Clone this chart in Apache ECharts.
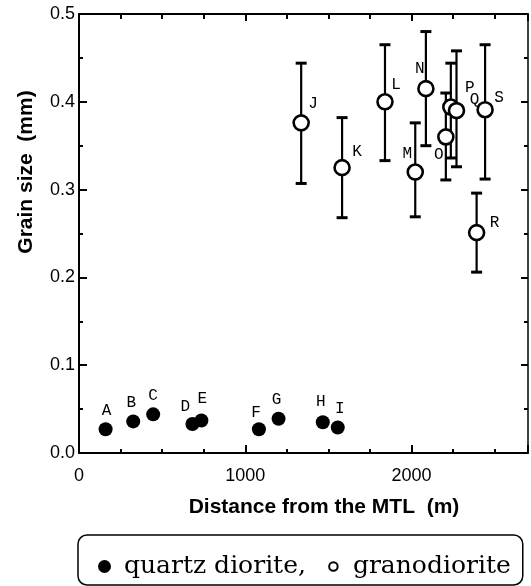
<!DOCTYPE html>
<html><head><meta charset="utf-8">
<script src="https://cdn.jsdelivr.net/npm/echarts@6/dist/echarts.min.js"></script>
<style>html,body{margin:0;padding:0;background:#fff}#c{width:531px;height:586px}</style>
</head><body><div id="c"></div><script>
// ---- data ----
const qdNames = ['A','B','C','D','E','F','G','H','I'];
const qdDistance = [160,326,446,682,736,1082,1200,1466,1556];
const qdGrain = [0.027,0.036,0.044,0.033,0.037,0.027,0.039,0.035,0.029];
const gdNames = ['J','K','L','M','N','O','P','Q','R','S'];
const gdDistance = [1336,1582,1840,2022,2086,2206,2236,2270,2391,2442];
const gdGrain = [0.376,0.325,0.400,0.320,0.415,0.360,0.394,0.390,0.251,0.391];
const gdLow  = [0.307,0.268,0.333,0.269,0.350,0.311,0.336,0.326,0.206,0.312];
const gdHigh = [0.444,0.382,0.465,0.376,0.480,0.410,0.444,0.458,0.296,0.465];
const xTickLabels = ['0','1000','2000'];
const yTickLabels = ['0.0','0.1','0.2','0.3','0.4','0.5'];
const seriesNames = ['quartz diorite,','granodiorite'];

// ---- label placement (style) ----
const labelOffset = {
  A:[1,-19],B:[-2,-19],C:[0,-19],D:[-7,-17],E:[1,-22],F:[-3,-17],G:[-2,-19],H:[-2,-21],I:[2,-19],
  J:[12,-19],K:[15,-16],L:[11,-17],M:[-8,-18],N:[-6,-20],O:[-7,18],P:[19,-19],Q:[18,-11],R:[18,-10],S:[14,-12]
};
const XMIN=0, XMAX=2700, YMIN=0, YMAX=0.5;
const lblStyle = {show:true, position:'inside', fontFamily:'Liberation Mono', fontSize:16, color:'#000'};

const qdData = qdNames.map((n,i)=>({name:n, value:[qdDistance[i], qdGrain[i]], label:Object.assign({}, lblStyle, {offset:labelOffset[n], formatter:n})}));
const gdData = gdNames.map((n,i)=>({name:n, value:[gdDistance[i], gdGrain[i]], label:Object.assign({}, lblStyle, {offset:labelOffset[n], formatter:n})}));
const errData = gdNames.map((n,i)=>[gdDistance[i], gdLow[i], gdHigh[i]]);

const black = '#000';
function xAx(extra){ return Object.assign({type:'value', min:XMIN, max:XMAX, gridIndex:0,
  axisLine:{show:false, onZero:false}, splitLine:{show:false}, axisLabel:{show:false}, axisTick:{show:false}}, extra); }
function yAx(extra){ return Object.assign({type:'value', min:YMIN, max:YMAX, gridIndex:0,
  axisLine:{show:false, onZero:false}, splitLine:{show:false}, axisLabel:{show:false}, axisTick:{show:false}}, extra); }

const chart = echarts.init(document.getElementById('c'), null, {renderer:'canvas'});
chart.setOption({
  backgroundColor:'#fff',
  animation:false,
  grid:{left:79, right:2, top:14, bottom:133},
  xAxis:[
    xAx({position:'bottom', interval:1000,
      axisLine:{show:true, onZero:false, lineStyle:{color:black, width:2}},
      axisTick:{show:true, inside:true, length:8, lineStyle:{color:black, width:2}},
      axisLabel:{show:true, margin:14, fontFamily:'Liberation Sans', fontSize:18, color:black,
        formatter:v=>xTickLabels.includes(String(v))?String(v):''}}),
    xAx({position:'bottom', interval:250,
      axisTick:{show:true, inside:true, length:4, lineStyle:{color:black, width:2}}}),
    xAx({position:'top', interval:250,
      axisLine:{show:true, onZero:false, lineStyle:{color:black, width:2}},
      axisTick:{show:true, inside:true, length:5, lineStyle:{color:black, width:2}}}),
    xAx({position:'top', interval:1000,
      axisTick:{show:true, inside:true, length:7, lineStyle:{color:black, width:2}}})
  ],
  yAxis:[
    yAx({position:'left', interval:0.1,
      axisLine:{show:true, onZero:false, lineStyle:{color:black, width:2}},
      axisTick:{show:true, inside:true, length:8, lineStyle:{color:black, width:2}},
      axisLabel:{show:true, margin:4, fontFamily:'Liberation Sans', fontSize:18, color:black,
        formatter:v=>{const s=(+v).toFixed(1); return yTickLabels.includes(s)?s:'';}}}),
    yAx({position:'left', interval:0.05,
      axisTick:{show:true, inside:true, length:4, lineStyle:{color:black, width:2}}}),
    yAx({position:'right', interval:0.05,
      axisLine:{show:true, onZero:false, lineStyle:{color:black, width:1.5}},
      axisTick:{show:true, inside:true, length:4, lineStyle:{color:black, width:2}}}),
    yAx({position:'right', interval:0.1,
      axisTick:{show:true, inside:true, length:7, lineStyle:{color:black, width:2}}})
  ],
  legend:{
    left:78, top:535, selectedMode:false,
    padding:[19,12,6,20], itemGap:20, itemWidth:13, itemHeight:13,
    borderColor:black, borderWidth:1.5, borderRadius:9,
    textStyle:{fontFamily:'DejaVu Serif', fontSize:25, color:black, padding:[0,0,0,8]},
    data:[
      {name:seriesNames[0], icon:'circle', itemStyle:{color:black, opacity:1}},
      {name:seriesNames[1], icon:'path://M0,0M26,26M4.5,13a8.5,8.5 0 1,0 17,0a8.5,8.5 0 1,0 -17,0Z'}
    ]
  },
  graphic:[
    {type:'text', x:26, y:172, rotation:Math.PI/2, style:{text:'Grain size  (mm)', font:'bold 21px "Liberation Sans"', fill:black, align:'center', verticalAlign:'middle'}},
    {type:'text', x:324, y:507, style:{text:'Distance from the MTL  (m)', font:'bold 21px "Liberation Sans"', fill:black, align:'center', verticalAlign:'middle'}}
  ],
  series:[
    {type:'custom', name:'errbars', xAxisIndex:0, yAxisIndex:0, data:errData, z:1,
      encode:{x:0, y:[1,2]},
      renderItem:(params, api)=>{
        const x=api.value(0), lo=api.value(1), hi=api.value(2);
        const pt=api.coord([x,hi]), pb=api.coord([x,lo]); const w=5.5;
        const st={stroke:black, lineWidth:2.2};
        return {type:'group', children:[
          {type:'line', shape:{x1:pt[0],y1:pt[1],x2:pb[0],y2:pb[1]}, style:st},
          {type:'line', shape:{x1:pt[0]-w,y1:pt[1],x2:pt[0]+w,y2:pt[1]}, style:{stroke:black,lineWidth:3}},
          {type:'line', shape:{x1:pb[0]-w,y1:pb[1],x2:pb[0]+w,y2:pb[1]}, style:{stroke:black,lineWidth:3}}
        ]};
      }},
    {type:'scatter', name:seriesNames[0], xAxisIndex:0, yAxisIndex:0, data:qdData, symbol:'circle', symbolSize:14, z:3,
      itemStyle:{color:black, opacity:1}},
    {type:'scatter', name:seriesNames[1], xAxisIndex:0, yAxisIndex:0, data:gdData, symbol:'circle', symbolSize:15, z:3,
      itemStyle:{color:'#fff', borderColor:black, borderWidth:2.6, opacity:1}}
  ]
});
</script></body></html>
